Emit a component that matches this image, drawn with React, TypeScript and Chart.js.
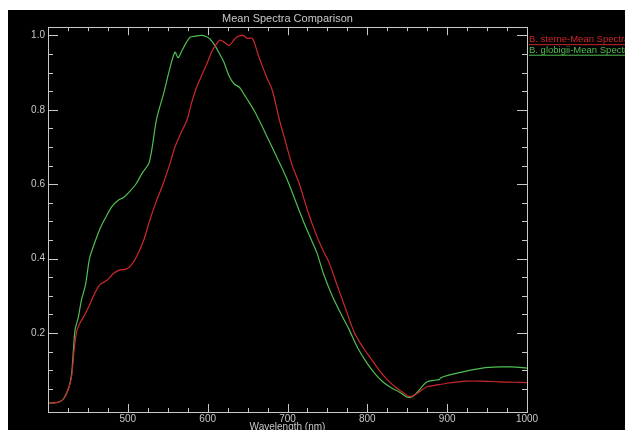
import React, { useEffect, useRef } from "react";
import { Chart, registerables } from "chart.js";

Chart.register(...registerables);

const chartTitle = "Mean Spectra Comparison";
const xAxisTitle = "Wavelength (nm)";
const sterneLabel = "B. sterne-Mean Spectra";
const globigiiLabel = "B. globigii-Mean Spectra";

const sterneWl = [400, 410, 415, 420, 425, 428, 430, 433, 436, 440, 445, 449, 452, 457, 465, 474, 482, 490, 498, 505, 512, 520, 527, 535, 544, 552, 559, 567, 574, 580, 586, 593, 599, 606, 612, 615, 619, 623, 627, 632, 636, 644, 650, 656, 663, 668, 674, 681, 690, 698, 706, 715, 725, 735, 745, 752, 762, 772, 784, 795, 805, 815, 825, 835, 845, 852, 858, 865, 874, 886, 902, 924, 944, 965, 985, 1000];
const sterneVals = [0.012, 0.013, 0.016, 0.025, 0.047, 0.068, 0.09, 0.16, 0.205, 0.227, 0.245, 0.262, 0.275, 0.30, 0.33, 0.342, 0.36, 0.37, 0.372, 0.385, 0.41, 0.45, 0.50, 0.55, 0.60, 0.65, 0.70, 0.74, 0.772, 0.82, 0.86, 0.895, 0.924, 0.96, 0.98, 0.987, 0.984, 0.978, 0.973, 0.985, 0.995, 1.0, 0.992, 0.992, 0.95, 0.92, 0.887, 0.852, 0.772, 0.71, 0.65, 0.60, 0.53, 0.47, 0.42, 0.39, 0.33, 0.27, 0.20, 0.16, 0.13, 0.10, 0.075, 0.055, 0.04, 0.03, 0.032, 0.042, 0.055, 0.06, 0.066, 0.071, 0.071, 0.069, 0.068, 0.067];

const globigiiWl = [400, 410, 415, 420, 425, 428, 430, 432, 434, 438, 442, 447, 452, 458, 465, 472, 480, 488, 495, 502, 510, 518, 527, 536, 545, 552, 559, 563, 568, 573, 578, 585, 592, 598, 603, 609, 615, 620, 627, 633, 640, 646, 652, 659, 665, 675, 685, 695, 702, 710, 720, 730, 737, 745, 755, 765, 777, 788, 800, 810, 820, 830, 840, 850, 857, 865, 874, 886, 890, 892, 902, 924, 944, 965, 981, 1000];
const globigiiVals = [0.012, 0.013, 0.016, 0.025, 0.047, 0.07, 0.10, 0.16, 0.21, 0.243, 0.29, 0.33, 0.40, 0.44, 0.48, 0.51, 0.54, 0.557, 0.565, 0.58, 0.60, 0.63, 0.66, 0.775, 0.845, 0.906, 0.955, 0.94, 0.96, 0.98, 0.995, 0.998, 1.0, 0.997, 0.99, 0.973, 0.95, 0.93, 0.89, 0.87, 0.86, 0.84, 0.82, 0.795, 0.77, 0.725, 0.68, 0.635, 0.60, 0.555, 0.50, 0.45, 0.415, 0.36, 0.305, 0.26, 0.21, 0.16, 0.118, 0.09, 0.068, 0.053, 0.042, 0.028, 0.03, 0.047, 0.068, 0.074, 0.075, 0.08, 0.087, 0.098, 0.106, 0.109, 0.109, 0.106];

const xTickValues = [500, 600, 700, 800, 900, 1000];
const yTickValues = [0.2, 0.4, 0.6, 0.8, 1.0];

const X_MIN = 400;
const X_MAX = 1000;
const Y_MIN = -0.012;
const Y_MAX = 1.022;

const RED = "rgb(205,40,44)";
const GREEN = "rgb(80,190,80)";
const AXIS = "rgb(200,200,200)";
const FONT = "'Liberation Sans', Arial, sans-serif";

const framePlugin = {
  id: "idlFrame",
  afterDatasetsDraw(chart: any) {
    const { ctx, chartArea } = chart;
    const xs = chart.scales.x;
    const ys = chart.scales.y;
    const { left, right, top, bottom } = chartArea;
    ctx.save();
    ctx.strokeStyle = AXIS;
    ctx.lineWidth = 1;
    ctx.strokeRect(Math.round(left) + 0.5, Math.round(top) + 0.5, Math.round(right - left), Math.round(bottom - top));
    ctx.beginPath();
    for (let v = X_MIN + 25; v < X_MAX; v += 25) {
      const px = Math.round(xs.getPixelForValue(v)) + 0.5;
      const len = v % 100 === 0 ? 8 : 4;
      ctx.moveTo(px, bottom);
      ctx.lineTo(px, bottom - len);
      ctx.moveTo(px, top);
      ctx.lineTo(px, top + len);
    }
    for (let i = 1; i <= 20; i++) {
      const v = i * 0.05;
      const py = Math.round(ys.getPixelForValue(v)) + 0.5;
      const len = i % 4 === 0 ? 10 : 5;
      ctx.moveTo(left, py);
      ctx.lineTo(left + len, py);
      ctx.moveTo(right, py);
      ctx.lineTo(right - len, py);
    }
    ctx.stroke();

    const items = chart.data.datasets;
    ctx.font = "9.5px " + FONT;
    ctx.textBaseline = "alphabetic";
    ctx.textAlign = "left";
    items.forEach((ds: any, i: number) => {
      const lx = right + 2;
      const ly = top + 15 + i * 10.5;
      ctx.fillStyle = ds.borderColor;
      ctx.fillText(ds.label, lx, ly);
      const w = ctx.measureText(ds.label).width;
      ctx.strokeStyle = ds.borderColor;
      ctx.beginPath();
      ctx.moveTo(lx, ly + 2.5);
      ctx.lineTo(lx + w, ly + 2.5);
      ctx.stroke();
    });
    ctx.restore();
  },
};

export default function App() {
  const ref = useRef<HTMLCanvasElement | null>(null);

  useEffect(() => {
    if (!ref.current) return;
    const chart = new Chart(ref.current, {
      type: "line",
      data: {
        datasets: [
          {
            label: sterneLabel,
            data: sterneWl.map((x, i) => ({ x, y: sterneVals[i] })),
            borderColor: RED,
            backgroundColor: RED,
            borderWidth: 1.2,
            pointRadius: 0,
            tension: 0.3,
          },
          {
            label: globigiiLabel,
            data: globigiiWl.map((x, i) => ({ x, y: globigiiVals[i] })),
            borderColor: GREEN,
            backgroundColor: GREEN,
            borderWidth: 1.2,
            pointRadius: 0,
            tension: 0.3,
          },
        ],
      },
      options: {
        responsive: false,
        animation: false,
        layout: { padding: { left: 0, right: 98, top: 0, bottom: 0 } },
        plugins: {
          legend: { display: false },
          tooltip: { enabled: false },
          title: {
            display: true,
            text: chartTitle,
            fullSize: false,
            color: AXIS,
            font: { family: FONT, size: 11, weight: "normal" },
            padding: { top: 2, bottom: 2 },
          },
        },
        scales: {
          x: {
            type: "linear",
            min: X_MIN,
            max: X_MAX,
            grid: { display: false, drawTicks: false },
            border: { display: false },
            afterBuildTicks: (s: any) => {
              s.ticks = xTickValues.map((v) => ({ value: v }));
            },
            afterFit: (s: any) => {
              s.height = 21;
            },
            ticks: {
              color: AXIS,
              padding: 1,
              maxRotation: 0,
              autoSkip: false,
              font: { family: FONT, size: 10 },
              callback: (v: any) => String(v),
            },
            title: {
              display: true,
              text: xAxisTitle,
              color: AXIS,
              padding: 0,
              font: { family: FONT, size: 10 },
            },
          },
          y: {
            type: "linear",
            min: Y_MIN,
            max: Y_MAX,
            grid: { display: false, drawTicks: false },
            border: { display: false },
            afterBuildTicks: (s: any) => {
              s.ticks = yTickValues.map((v) => ({ value: v }));
            },
            afterFit: (s: any) => {
              s.width = 40;
            },
            ticks: {
              color: AXIS,
              padding: 3,
              autoSkip: false,
              font: { family: FONT, size: 10 },
              callback: (v: any) => Number(v).toFixed(1),
            },
          },
        },
      },
      plugins: [framePlugin],
    } as any);
    return () => chart.destroy();
  }, []);

  return (
    <div
      style={{
        position: "absolute",
        left: 8,
        top: 10,
        width: 617,
        height: 420,
        overflow: "hidden",
        background: "#000",
      }}
    >
      <canvas ref={ref} width={617} height={423} style={{ display: "block" }} />
    </div>
  );
}
